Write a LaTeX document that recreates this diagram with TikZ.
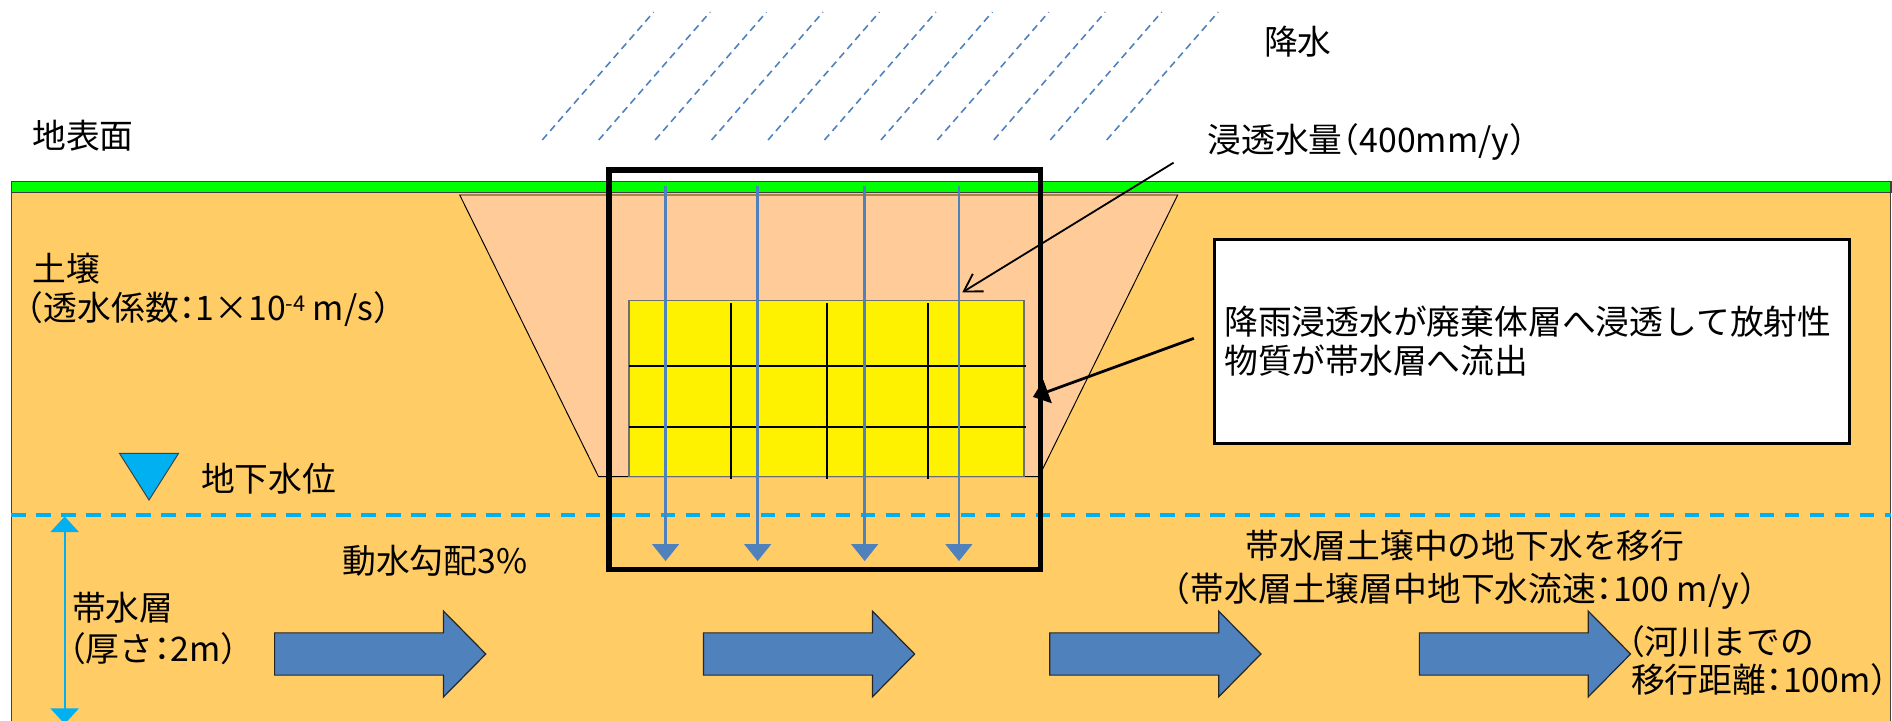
\documentclass[tikz,border=0pt]{standalone}
\usepackage{fontspec}
\setmainfont{Noto Sans CJK JP}[RawFeature=+halt]
\usetikzlibrary{arrows.meta}
\definecolor{soil}{RGB}{255,204,102}
\definecolor{pitfill}{RGB}{255,204,153}
\definecolor{grass}{RGB}{0,255,0}
\definecolor{waterblue}{RGB}{0,176,240}
\definecolor{steel}{RGB}{79,129,189}
\definecolor{edgegray}{RGB}{64,64,64}
\definecolor{wastegray}{RGB}{110,110,110}

\begin{document}
\begin{tikzpicture}[x=1pt,y=-1pt,
  lbl/.style={inner sep=0pt, anchor=base west, font=\fontsize{28}{34}\selectfont},
  rain/.style={steel, line width=1.3pt, dash pattern=on 6pt off 4pt},
  seep/.style={steel, line width=2pt, -{Triangle[length=14pt,width=22pt]}},
  flowarrow/.style={fill=steel, draw=black!85, line width=1pt, line join=miter},
  gridline/.style={black, line width=1.6pt},
  leader/.style={black, line width=1.5pt, -{Straight Barb[length=14pt,width=17pt]}},
  pointer/.style={black, line width=2.3pt, -{Triangle[length=13pt,width=20pt]}},
  callout/.style={draw=black, line width=2.2pt, fill=white, inner sep=8pt,
    minimum width=526.3pt, minimum height=169.1pt, text width=510.3pt,
    align=left, font=\fontsize{28}{32}\selectfont}]

\useasboundingbox (0,0) rectangle (1568,597);
\fill[white] (0,0) rectangle (1568,597);

\begin{scope}
\clip (0,0) rectangle (1568,597);

% precipitation
\foreach \k in {0,...,10}
  \draw[rain] ({449.4+46.78*\k},116) -- ({541.7+46.78*\k},10);

% soil body and ground surface
\fill[soil] (9.5,159.7) rectangle (1567,610);
\draw[edgegray, line width=1pt] (9.5,159.7) -- (9.5,610) (1567,159.7) -- (1567,610);
\draw[fill=grass, draw=edgegray, line width=1.2pt] (9.5,150.6) rectangle (1567,159.7);

% backfilled pit
\draw[fill=pitfill, draw=black, line width=0.8pt]
  (381,161.6) -- (976,161.6) -- (861,395) -- (496,395) -- cycle;

% waste body layer
\draw[fill=yellow, draw=wastegray, line width=1pt] (521.3,249.2) rectangle (848.7,395);
\foreach \x in {605.6,685.6,769.3}
  \draw[gridline] (\x,251.4) -- (\x,397);
\foreach \y in {303.3,353.6}
  \draw[gridline] (521.3,\y) -- (850,\y);

% groundwater table
\draw[waterblue, line width=3.3pt, dash pattern=on 12pt off 8.7pt] (9.5,426.8) -- (1567,426.8);

% infiltration through the waste
\foreach \x [count=\i] in {551.6,627.9,716.6,794.7} {
  \coordinate (in\i) at (\x,154);
  \coordinate (out\i) at (\x,465);
  \draw[seep] (in\i) -- (out\i);
}

% evaluation frame
\draw[black, line width=4.2pt] (504.7,140.9) rectangle (862.3,471.6);

% water level mark
\draw[fill=waterblue, draw=edgegray, line width=0.8pt]
  (99,375.7) -- (148,375.7) -- (123.5,414.4) -- cycle;

% aquifer thickness
\coordinate (aqtop) at (53.6,428);
\coordinate (aqbot) at (53.6,600);
\draw[waterblue, line width=1.5pt, {Triangle[length=13pt,width=23.5pt]}-{Triangle[length=13pt,width=23.5pt]}] (aqtop) -- (aqbot);

% groundwater flow
\foreach \x in {227.6,583,870,1176.3}
  \draw[flowarrow] (\x,524.5) -- ++(140,0) -- ++(0,-18) -- ++(35,35.5)
    -- ++(-35,35.5) -- ++(0,-18) -- ++(-140,0) -- cycle;
\end{scope}

% labels
\node[lbl] (surface) at (26.5,123) {地表面};
\node[lbl] (rainlbl) at (1047.5,45) {降水};
\node[lbl] (infil) at (1000.5,126.5) {浸透水量（400mm/y）};
\node[lbl] (soillbl) at (26.5,233) {土壌};
\node[lbl] (perm) at (22,266) {（透水係数：1×10\raisebox{8pt}{\fontsize{18}{18}\selectfont -4} m/s）};
\node[lbl] (gwlevel) at (166.5,407) {地下水位};
\node[lbl] (gradient) at (283.5,475) {動水勾配3\%};
\node[lbl] (aquifer) at (59.5,514) {帯水層};
\node[lbl] (thick) at (57,548.5) {（厚さ：2m）};
\node[inner sep=0pt, align=center, font=\fontsize{28}{36}\selectfont] (transport) at (1214,472)
  {帯水層土壌中の地下水を移行\\（帯水層土壌層中地下水流速：100 m/y）};
\node[lbl] (river1) at (1349,542) {（河川までの};
\node[lbl] (river2) at (1351.5,574) {移行距離：100m）};

% explanation box
\node[callout] (note) at (1269.75,282.85)
  {降雨浸透水が廃棄体層へ浸透して放射性\\物質が帯水層へ流出};

% leaders
\coordinate (infilfrom) at (972.6,134.8);
\coordinate (infilto) at (797.5,242.3);
\draw[leader] (infilfrom) -- (infilto);
\coordinate (notefrom) at (989.4,280.4);
\coordinate (noteto) at (856,329);
\draw[pointer] (notefrom) -- (noteto);

\end{tikzpicture}
\end{document}
